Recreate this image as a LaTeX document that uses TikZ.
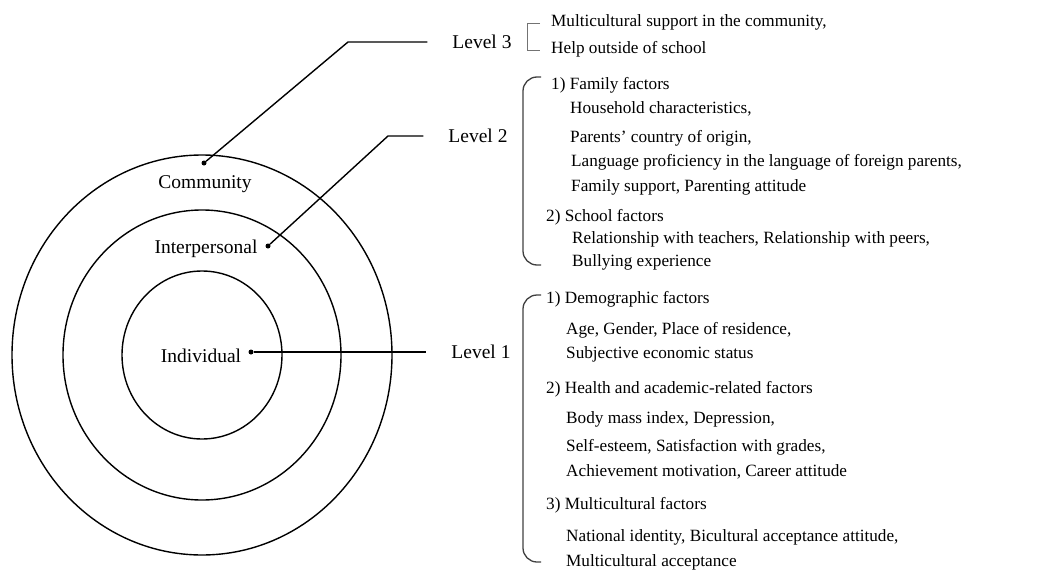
\documentclass[tikz,border=0pt]{standalone}
\usepackage{fontspec}
\setmainfont{Liberation Serif}
\begin{document}
\begin{tikzpicture}[x=1pt, y=-1pt]
	\tikzset{texte/.style={anchor=base west, inner sep=0pt, font=\fontsize{17.2}{20}\selectfont},
		cercle/.style={anchor=base, inner sep=0pt, font=\fontsize{19.5}{22}\selectfont},
		niveau/.style={inner sep=0pt, outer xsep=25pt, font=\fontsize{19.5}{22}\selectfont},
		point/.style={circle, fill=black, inner sep=0pt, minimum size=5pt},
		trait/.style={line width=1.4pt},
		accolade/.style={line width=1.3pt, black!75, rounded corners=14pt}};

	\useasboundingbox (0,0) rectangle (1061,570);

	% les trois cercles
	\draw[trait] (202,355) ellipse [x radius=80pt,  y radius=84pt];
	\draw[trait] (202,355) ellipse [x radius=139pt, y radius=145pt];
	\draw[trait] (202,355) ellipse [x radius=190pt, y radius=200pt];

	\node[cercle] (com) at (205,188) {Community};
	\node[cercle] (int) at (206,253) {Interpersonal};
	\node[cercle] (ind) at (201,362) {Individual};

	\node[point] (pc) at (204,163) {};
	\node[point] (pp) at (268,246) {};
	\node[point] (pi) at (251,352) {};

	\node[niveau] (lv3) at (482, 42) {Level 3};
	\node[niveau] (lv2) at (478,136) {Level 2};
	\node[niveau] (lv1) at (481,352) {Level 1};

	\coordinate (k3) at (348, 42);
	\coordinate (k2) at (388,136);

	\draw[trait] (pc) -- (k3) -- (lv3);
	\draw[trait] (pp) -- (k2) -- (lv2);
	\draw[trait] (pi) -- (lv1);

	% accolades
	\draw[line width=0.9pt, black!55] (540,23) -- (527,23) -- (527,50) -- (540,50);
	\draw[accolade] (541, 77) -- (523, 77) -- (523,265) -- (541,265);
	\draw[accolade] (541,295) -- (523,295) -- (523,562) -- (541,562);

	% niveau 3
	\node[texte] (a1) at (551, 27) {Multicultural support in the community,};
	\node[texte] (a2) at (551, 53) {Help outside of school};

	% niveau 2
	\node[texte] (b1) at (551, 89) {1) Family factors};
	\node[texte] (b2) at (570,113) {Household characteristics,};
	\node[texte] (b3) at (570,142) {Parents’ country of origin,};
	\node[texte] (b4) at (571,166) {Language proficiency in the language of foreign parents,};
	\node[texte] (b5) at (571,191) {Family support, Parenting attitude};
	\node[texte] (b6) at (546,221) {2) School factors};
	\node[texte] (b7) at (572,243) {Relationship with teachers, Relationship with peers,};
	\node[texte] (b8) at (572,266) {Bullying experience};

	% niveau 1
	\node[texte] (c1) at (546,303) {1) Demographic factors};
	\node[texte] (c2) at (566,334) {Age, Gender, Place of residence,};
	\node[texte] (c3) at (566,358) {Subjective economic status};
	\node[texte] (c4) at (546,393) {2) Health and academic-related factors};
	\node[texte] (c5) at (566,423) {Body mass index, Depression,};
	\node[texte] (c6) at (566,451) {Self-esteem, Satisfaction with grades,};
	\node[texte] (c7) at (566,476) {Achievement motivation, Career attitude};
	\node[texte] (c8) at (546,509) {3) Multicultural factors};
	\node[texte] (c9) at (566,541) {National identity, Bicultural acceptance attitude,};
	\node[texte] (c10) at (566,566) {Multicultural acceptance};
\end{tikzpicture}
\end{document}
